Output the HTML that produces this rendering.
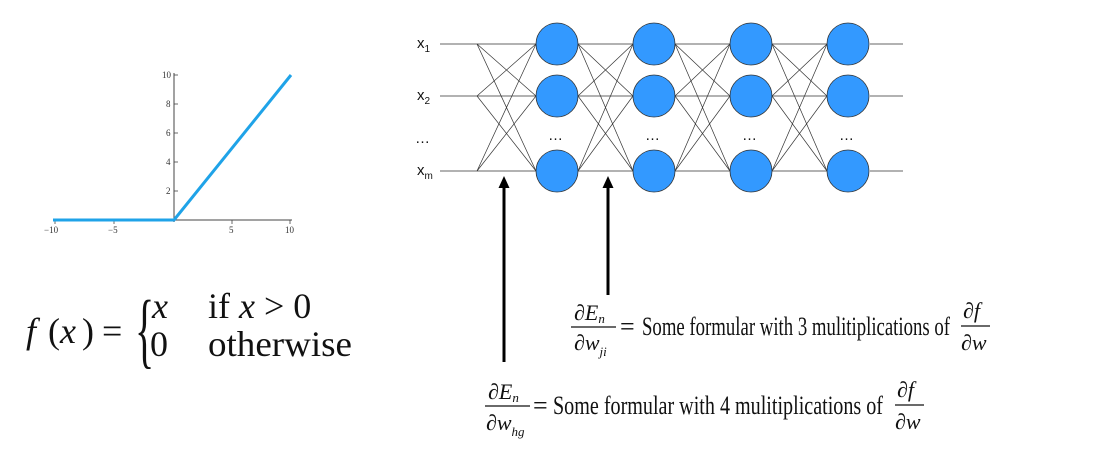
<!DOCTYPE html>
<html><head><meta charset="utf-8"><style>
html,body{margin:0;padding:0;background:#fff;}
svg{display:block;}
</style></head><body>
<svg width="1093" height="459" viewBox="0 0 1093 459" xmlns="http://www.w3.org/2000/svg">
<!-- ReLU plot -->
<g stroke="#444" stroke-width="1" fill="none">
<line x1="55" y1="220" x2="292" y2="220"/>
<line x1="174" y1="73" x2="174" y2="222"/>
</g>
<g stroke="#444" stroke-width="0.8">
<line x1="55" y1="220" x2="55" y2="224"/><line x1="114" y1="220" x2="114" y2="224"/>
<line x1="232" y1="220" x2="232" y2="224"/><line x1="290" y1="220" x2="290" y2="224"/>
<line x1="174" y1="75" x2="178" y2="75"/><line x1="174" y1="104" x2="178" y2="104"/>
<line x1="174" y1="133" x2="178" y2="133"/><line x1="174" y1="162" x2="178" y2="162"/>
<line x1="174" y1="191" x2="178" y2="191"/>
</g>
<g font-family="Liberation Serif,serif" font-size="9" fill="#333">
<text x="44" y="233">−10</text><text x="108" y="233">−5</text>
<text x="229" y="233">5</text><text x="285" y="233">10</text>
<text x="162" y="78">10</text><text x="166" y="107">8</text>
<text x="166" y="136">6</text><text x="166" y="165">4</text><text x="166" y="194">2</text>
</g>
<polyline points="53,220 174,220 291,75" fill="none" stroke="#1fa3e8" stroke-width="3"/>

<!-- f(x) formula -->
<g font-size="36" fill="#111" font-family="Liberation Serif,serif">
<text x="26" y="343" font-style="italic">f</text>
<text x="48" y="343">(</text>
<text x="60" y="343" font-style="italic">x</text>
<text x="82" y="343">)</text>
<text x="102" y="343">=</text>
<text x="0" y="0" font-size="40" transform="translate(135,358) scale(1,2.1)">{</text>
<text x="152" y="318" font-style="italic">x</text>
<text x="208" y="318">if <tspan font-style="italic">x</tspan> &gt; 0</text>
<text x="150" y="356">0</text>
<text x="208" y="356" textLength="144" lengthAdjust="spacingAndGlyphs">otherwise</text>
</g>

<!-- Network connections -->
<g stroke="#333" stroke-width="0.7" fill="none">
<line x1="440" y1="44" x2="536" y2="44"/>
<line x1="440" y1="96" x2="536" y2="96"/>
<line x1="440" y1="171" x2="536" y2="171"/>
<line x1="870" y1="44" x2="903" y2="44"/>
<line x1="870" y1="96" x2="903" y2="96"/>
<line x1="870" y1="171" x2="903" y2="171"/>
<line x1="477" y1="44" x2="536" y2="96"/><line x1="477" y1="44" x2="536" y2="171"/>
<line x1="477" y1="96" x2="536" y2="44"/><line x1="477" y1="96" x2="536" y2="171"/>
<line x1="477" y1="171" x2="536" y2="44"/><line x1="477" y1="171" x2="536" y2="96"/>
<g id="fc">
<line x1="578" y1="44" x2="633" y2="44"/><line x1="578" y1="96" x2="633" y2="96"/><line x1="578" y1="171" x2="633" y2="171"/>
<line x1="578" y1="44" x2="633" y2="96"/><line x1="578" y1="44" x2="633" y2="171"/>
<line x1="578" y1="96" x2="633" y2="44"/><line x1="578" y1="96" x2="633" y2="171"/>
<line x1="578" y1="171" x2="633" y2="44"/><line x1="578" y1="171" x2="633" y2="96"/>
</g>
<use href="#fc" x="97"/>
<use href="#fc" x="194"/>
</g>
<g fill="#3399ff" stroke="#333" stroke-width="0.8">
<circle cx="557" cy="44" r="21"/><circle cx="557" cy="96" r="21"/><circle cx="557" cy="171" r="21"/>
<circle cx="654" cy="44" r="21"/><circle cx="654" cy="96" r="21"/><circle cx="654" cy="171" r="21"/>
<circle cx="751" cy="44" r="21"/><circle cx="751" cy="96" r="21"/><circle cx="751" cy="171" r="21"/>
<circle cx="848" cy="44" r="21"/><circle cx="848" cy="96" r="21"/><circle cx="848" cy="171" r="21"/>
</g>
<g font-family="Liberation Sans,sans-serif" font-size="15" fill="#111">
<text x="417" y="48">x<tspan font-size="10" dy="4">1</tspan></text>
<text x="417" y="100">x<tspan font-size="10" dy="4">2</tspan></text>
<text x="415" y="143">…</text>
<text x="417" y="175">x<tspan font-size="10" dy="4">m</tspan></text>
<text x="548" y="140">…</text><text x="645" y="140">…</text>
<text x="742" y="140">…</text><text x="839" y="140">…</text>
</g>

<!-- arrows -->
<g fill="#000">
<rect x="502.5" y="186" width="3" height="176"/>
<polygon points="504,176 498.5,188 509.5,188"/>
<rect x="606.5" y="186" width="3" height="109"/>
<polygon points="608,176 602.5,188 613.5,188"/>
</g>

<!-- formulas -->
<g font-family="Liberation Serif,serif" fill="#111">
<text x="574" y="320" font-size="22" font-style="italic">∂E<tspan font-size="13" dy="3">n</tspan></text>
<line x1="571" y1="327" x2="616" y2="327" stroke="#111" stroke-width="1.2"/>
<text x="574" y="350" font-size="22" font-style="italic">∂w<tspan font-size="13" dy="6">ji</tspan></text>
<text x="620" y="335" font-size="26">=</text>
<text x="642" y="335" font-size="26" textLength="308" lengthAdjust="spacingAndGlyphs">Some formular with 3 mulitiplications of</text>
<text x="963" y="318" font-size="22" font-style="italic">∂f</text>
<line x1="961" y1="326" x2="990" y2="326" stroke="#111" stroke-width="1.2"/>
<text x="961" y="350" font-size="22" font-style="italic">∂w</text>

<text x="488" y="399" font-size="22" font-style="italic">∂E<tspan font-size="13" dy="3">n</tspan></text>
<line x1="485" y1="406" x2="530" y2="406" stroke="#111" stroke-width="1.2"/>
<text x="486" y="430" font-size="22" font-style="italic">∂w<tspan font-size="13" dy="6">hg</tspan></text>
<text x="533" y="414" font-size="26">=</text>
<text x="553" y="414" font-size="26" textLength="330" lengthAdjust="spacingAndGlyphs">Some formular with 4 mulitiplications of</text>
<text x="897" y="397" font-size="22" font-style="italic">∂f</text>
<line x1="895" y1="405" x2="924" y2="405" stroke="#111" stroke-width="1.2"/>
<text x="895" y="429" font-size="22" font-style="italic">∂w</text>
</g>
</svg>
</body></html>
